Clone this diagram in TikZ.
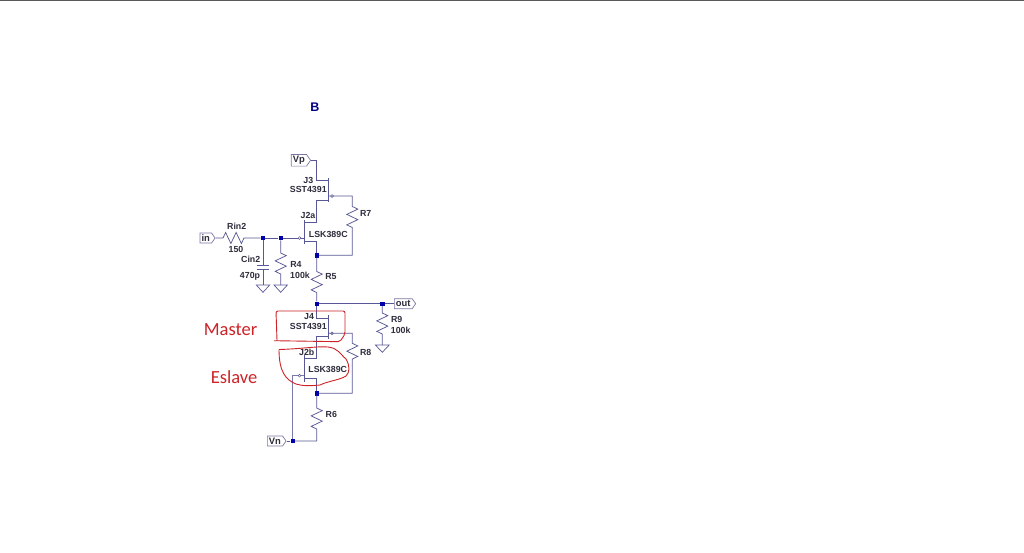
\documentclass[tikz,border=0pt]{standalone}
\usepackage{fontspec}
\setmainfont{Liberation Sans}
\newfontfamily\redfont{Carlito}
\usetikzlibrary{decorations.pathmorphing,shapes.symbols,calc}
\definecolor{wirecol}{RGB}{88,88,150}
\definecolor{dotcol}{RGB}{0,0,170}
\definecolor{txtcol}{RGB}{45,45,60}
\definecolor{redcol}{RGB}{205,35,40}
\definecolor{flagcol}{RGB}{120,120,165}
\tikzset{
  x=1pt,y=-1pt,
  wire/.style={draw=wirecol,line width=0.75pt},
  gwire/.style={draw=wirecol!80,line width=1.2pt},
  chan/.style={draw=wirecol,line width=0.9pt},
  zz/.style={decoration={zigzag,amplitude=5.5pt,segment length=10.5pt}},
  dot/.style={fill=dotcol,inner sep=0pt,minimum size=4.4pt,rectangle},
  gatemark/.style={draw=wirecol,circle,inner sep=0pt,minimum size=2.8pt,line width=0.5pt,fill=white},
  lbl/.style={font=\bfseries\fontsize{8.8}{9}\selectfont,text=txtcol,inner sep=0pt},
  flag/.style={draw=flagcol,line width=0.7pt,signal,signal to=east,signal pointer angle=110,
    font=\bfseries\fontsize{9.4}{10}\selectfont,text=txtcol,inner sep=1.6pt,minimum height=10pt},
  redtxt/.style={font=\redfont\fontsize{18.5}{20}\selectfont,text=redcol,inner sep=0pt},
  redline/.style={draw=redcol,line width=0.9pt,rounded corners=2pt},
  gnd/.style={draw=wirecol,line width=0.7pt}
}
\begin{document}
\begin{tikzpicture}
\useasboundingbox (0,0) rectangle (1024,552);
\fill[white] (0,0) rectangle (1024,552);
\coordinate (tl) at (0,0.5); \coordinate (tr) at (1024,0.5);
\draw[black!65,line width=1pt] (tl) -- (tr);

\node[font=\bfseries\fontsize{12.5}{13}\selectfont,text=dotcol!75!black,inner sep=0pt] (title) at (315,107) {B};

% flags
\node[flag,anchor=east] (vp) at (311,160.3) {Vp};
\node[flag,anchor=east] (in) at (215.5,238) {in};
\node[flag,anchor=west] (out) at (394,303.7) {out};
\node[flag,anchor=east] (vn) at (286.5,441) {Vn};

% junctions
\node[dot] (n1) at (263,238) {};
\node[dot] (n2) at (280.7,238) {};
\node[dot] (n3) at (316.7,255.3) {};
\node[dot] (n4) at (316.7,303.7) {};
\node[dot] (n5) at (382.3,303.7) {};
\node[dot] (n6) at (316.7,393.3) {};
\node[dot] (n7) at (292.7,441) {};

% J3
\coordinate (j3t) at (328.3,178); \coordinate (j3b) at (328.3,202);
\coordinate (j3s) at (328.3,180.3); \coordinate (j3d) at (328.3,200);
\coordinate (j3g) at (328.3,196);
\draw[chan] (j3t) -- (j3b);
% J2a
\coordinate (a1t) at (304.3,220); \coordinate (a1b) at (304.3,244);
\coordinate (a1s) at (304.3,222.7); \coordinate (a1d) at (304.3,241.7);
\coordinate (a1g) at (304.3,238);
\draw[chan] (a1t) -- (a1b);
% J4
\coordinate (j4t) at (328.3,315); \coordinate (j4b) at (328.3,339.3);
\coordinate (j4s) at (328.3,318.3); \coordinate (j4d) at (328.3,336.7);
\coordinate (j4g) at (328.3,333.3);
\draw[chan] (j4t) -- (j4b);
% J2b
\coordinate (b1t) at (304.3,355); \coordinate (b1b) at (304.3,381.7);
\coordinate (b1s) at (304.3,358.3); \coordinate (b1d) at (304.3,378.7);
\coordinate (b1g) at (304.3,375.7);
\draw[chan] (b1t) -- (b1b);

% upper wires
\draw[wire] (vp.east) -- (316.7,160.3) -- (316.7,180.3) -- (j3s);
\draw[wire] (j3d) -- (316.7,200) -- (316.7,222.7) -- (a1s);
\draw[wire] (a1d) -- (316.7,241.7) -- (n3);
\draw[wire] (in.east) -- (223,238) decorate[zz]{-- (248,238)} -- (n1);
\draw[wire] (n1) -- (n2) -- (a1g);
\node[gatemark] (ga) at (299.5,238) {};
\node[gatemark] (gj3) at (332,196) {};
\coordinate (r7t) at (352.3,196); \coordinate (r7b) at (352.3,255.3);
\draw[wire] (j3g) -- (r7t) -- (352.3,206.5) decorate[zz]{-- (352.3,228)} -- (r7b) -- (n3);
% C and R4
\coordinate (g1) at (263,285); \coordinate (g2) at (280.7,285);
\draw[wire] (n1) -- (263,265.5);
\draw[wire] (256.7,265.7) -- (269.3,265.7);
\draw[wire] (256.7,269.2) -- (269.3,269.2);
\draw[wire] (263,269.2) -- (g1);
\draw[gnd] (256.3,285) -- (269.7,285) -- (263,292.3) -- cycle;
\draw[wire] (n2) -- (280.7,253) decorate[zz]{-- (280.7,278)} -- (g2);
\draw[gnd] (274,285) -- (287.4,285) -- (280.7,292.3) -- cycle;
% R5
\draw[wire] (n3) -- (316.7,271.5) decorate[zz]{-- (316.7,295)} -- (n4);
% output
\draw[wire] (n4) -- (n5) -- (out.west);
\coordinate (g3) at (382.3,345);
\draw[wire] (n5) -- (382.3,313) decorate[zz]{-- (382.3,336)} -- (g3);
\draw[gnd] (375.4,345) -- (389.2,345) -- (382.3,352.3) -- cycle;
% J4 wires
\draw[wire] (n4) -- (316.7,318.3) -- (j4s);
\draw[wire] (j4d) -- (316.7,336.7) -- (316.7,358.3) -- (b1s);
\draw[wire] (b1d) -- (316.7,378.7) -- (n6);
\node[gatemark] (gj4) at (332,333.3) {};
\coordinate (r8t) at (352.3,333.3); \coordinate (r8b) at (352.3,393.3);
\draw[wire] (j4g) -- (r8t) -- (352.3,343.3) decorate[zz]{-- (352.3,363)} -- (r8b) -- (n6);
% R6
\coordinate (r6b) at (316.7,441);
\draw[wire] (n6) -- (316.7,408) decorate[zz]{-- (316.7,430)} -- (r6b) -- (n7);
\draw[wire] (vn.east) -- (n7);
\coordinate (gb) at (292.7,375.7);
\draw[gwire] (n7) -- (gb) -- (b1g);
\node[gatemark] (gbm) at (299.5,375.7) {};

% labels
\node[lbl] (lr) at (236.7,226.7) {Rin2};
\node[lbl] (lr150) at (236,249) {150};
\node[lbl] (lc) at (250.7,259) {Cin2};
\node[lbl] (lc2) at (250,276.5) {470p};
\node[lbl] (lr4) at (296,264) {R4};
\node[lbl] (lr4v) at (300,275) {100k};
\node[lbl] (lr5) at (331,276.7) {R5};
\node[lbl] (lj3) at (308.3,180) {J3};
\node[lbl] (lj3v) at (308.3,189.3) {SST4391};
\node[lbl] (lj2a) at (308,215.7) {J2a};
\node[lbl] (lsk1) at (328.3,234.7) {LSK389C};
\node[lbl] (lr7) at (365.7,213.7) {R7};
\node[lbl] (lr9) at (396.7,319.3) {R9};
\node[lbl] (lr9v) at (400.7,330.3) {100k};
\node[lbl] (lj4) at (309,316.7) {J4};
\node[lbl] (lj4v) at (308.3,326) {SST4391};
\node[lbl] (lj2b) at (306.7,352.7) {J2b};
\node[lbl] (lsk2) at (327.7,369) {LSK389C};
\node[lbl] (lr8) at (365.7,352) {R8};
\node[lbl] (lr6) at (331.3,414.7) {R6};

% red annotations
\node[redtxt] (master) at (230.5,330) {Master};
\node[redtxt] (eslave) at (234,377) {Eslave};
\draw[redline] (277,340.5) -- (276,311) -- (345,311) -- (345,334) -- (340,341.7) -- (274,340.7);
\draw[draw=redcol,line width=0.9pt] (279,349.5) .. controls (300,349) and (318,346) .. (328,347)
  .. controls (338,348) and (340,354) .. (346,359)
  .. controls (350,366) and (350,372) .. (346,376)
  .. controls (340,380) and (328,381) .. (320,385)
  .. controls (310,386) and (302,386) .. (296,384)
  .. controls (286,380) and (279,372) .. (279,349.5);
\end{tikzpicture}
\end{document}
